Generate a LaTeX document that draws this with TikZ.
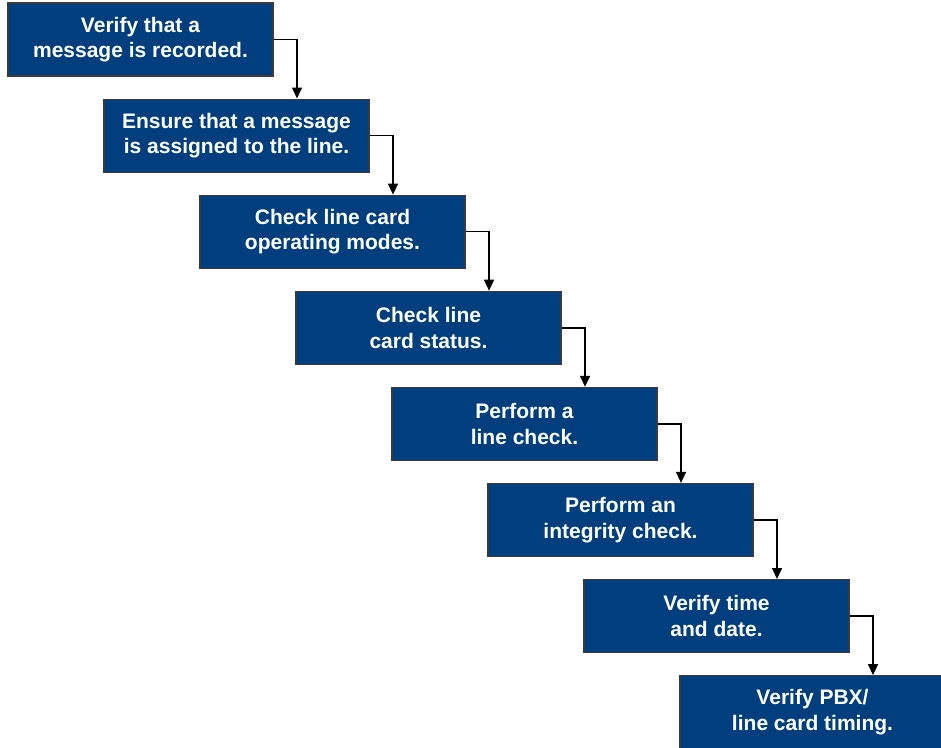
\documentclass[tikz,border=0pt]{standalone}
\usepackage{fontspec}
\setmainfont{Liberation Sans}
\usetikzlibrary{arrows.meta}
\definecolor{stepblue}{HTML}{003E7E}
\definecolor{stepedge}{HTML}{3A3A3A}

\begin{document}
\begin{tikzpicture}[x=1pt,y=1pt,
  stepbox/.style={rectangle,draw=stepedge,line width=1.2pt,fill=stepblue,
    minimum width=265pt,minimum height=73pt,inner sep=0pt,align=center,
    text=white,font=\fontsize{21}{25.5}\selectfont\bfseries},
  flow/.style={line width=1.5pt,-{Triangle[width=10pt,length=11pt]}}]
\useasboundingbox (0,0) rectangle (941,-747);
\clip (0,0) rectangle (941,-747);
% Steps
\node[stepbox] (s1) at (140.5,-39.5) {Verify that a\\message is recorded.};
\node[stepbox] (s2) at (236.5,-135.6) {Ensure that a message\\is assigned to the line.};
\node[stepbox] (s3) at (332.5,-231.7) {Check line card\\operating modes.};
\node[stepbox] (s4) at (428.5,-327.8) {Check line\\card status.};
\node[stepbox] (s5) at (524.5,-423.9) {Perform a\\line check.};
\node[stepbox] (s6) at (620.5,-520.0) {Perform an\\integrity check.};
\node[stepbox] (s7) at (716.5,-616.1) {Verify time\\and date.};
\node[stepbox] (s8) at (812.5,-712.2) {Verify PBX/\\line card timing.};

% Connectors
\draw[flow] (s1.east) -| ([xshift=60.5pt]s2.north);
\draw[flow] (s2.east) -| ([xshift=60.5pt]s3.north);
\draw[flow] (s3.east) -| ([xshift=60.5pt]s4.north);
\draw[flow] (s4.east) -| ([xshift=60.5pt]s5.north);
\draw[flow] (s5.east) -| ([xshift=60.5pt]s6.north);
\draw[flow] (s6.east) -| ([xshift=60.5pt]s7.north);
\draw[flow] (s7.east) -| ([xshift=60.5pt]s8.north);
\end{tikzpicture}
\end{document}
